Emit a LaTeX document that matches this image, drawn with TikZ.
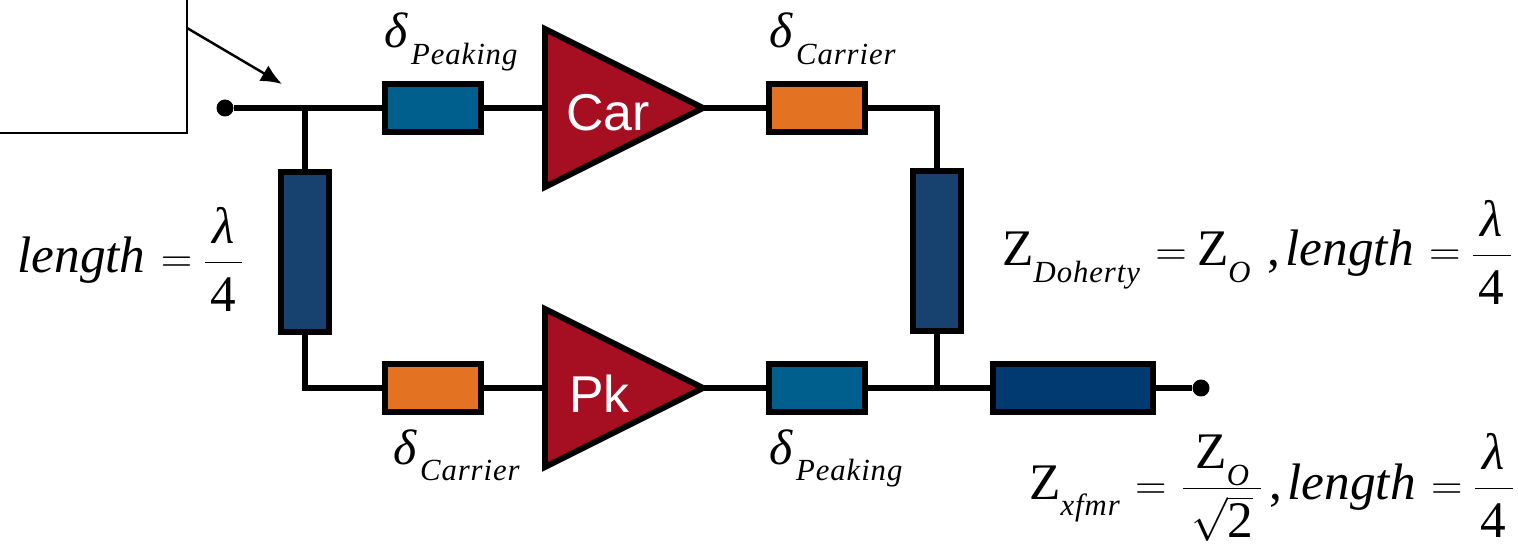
\documentclass[tikz,border=0pt]{standalone}
\usepackage{fontspec}
\usepackage{xcolor}
\setmainfont{Liberation Serif}
\newfontfamily\ampfont{Liberation Sans}
\usetikzlibrary{arrows.meta,positioning,shapes.geometric}
\definecolor{ampred}{HTML}{A50F21}
\definecolor{phblue}{HTML}{005F8C}
\definecolor{phorange}{HTML}{E37222}
\definecolor{stubblue}{HTML}{17426F}
\definecolor{xfmrblue}{HTML}{003A70}
\newcommand{\subfont}{\fontsize{17.5}{18}\selectfont\itshape\addfontfeature{LetterSpace=3}}
\newcommand{\sublabel}[2]{\textit{#1}\hspace{0.06em}\raisebox{-0.34em}{\subfont #2}}
\newcommand{\subdrop}[1]{\raisebox{-0.32em}{\subfont #1}}
\newcommand{\eqsign}{\hspace{0.3em}$=$\hspace{0.2em}}
\newcommand{\tallfrac}[3]{\ensuremath{\displaystyle\frac{\mbox{\hspace{#3}\rule[-0.2em]{0pt}{0pt}#1\hspace{#3}}}{\mbox{\rule{0pt}{0.92em}#2}}}}
\newcommand{\lamfrac}{\tallfrac{\itshape λ}{4}{0.15em}}
\begin{document}
\begin{tikzpicture}[
    x=0.02cm, y=-0.02cm,
    wire/.style={line width=2.9pt, draw=black},
    phbox/.style={draw=black, line width=3.4pt, minimum width=1.92cm, minimum height=0.96cm, outer sep=0pt, inner sep=0pt},
    stubbox/.style={draw=black, line width=3.4pt, fill=stubblue, minimum width=0.96cm, minimum height=3.2cm, outer sep=0pt, inner sep=0pt},
    ampbox/.style={draw=black, line width=3.4pt, fill=ampred, isosceles triangle, isosceles triangle stretches, minimum width=3.16cm, minimum height=3.16cm, inner sep=0pt, outer sep=0pt, anchor=lower side, text=white, font=\ampfont\fontsize{29.5}{30}\selectfont},
    dot/.style={circle, fill=black, minimum size=0.34cm, inner sep=0pt},
    eqn/.style={anchor=base west, inner sep=0pt, font=\fontsize{28.3}{30}\selectfont},
    mainqn/.style={eqn, font=\fontsize{29.2}{30}\selectfont},
    arrow/.style={-{Latex[length=0.42cm,width=0.36cm]}, line width=1.4pt, draw=black},
    callout/.style={line width=1.2pt, draw=black}
  ]
    \useasboundingbox (0,0) rectangle (1518,547);
    \coordinate (calltop) at (187,0);
    \coordinate (callcorner) at (187,133);
    \coordinate (callleft) at (0,133);
    \coordinate (callstart) at (187,28);
    \coordinate (callend) at (282,84);
    \node[dot] (in) at (225,108) {};
    \node[dot] (out) at (1201,388) {};
    \coordinate (tleft) at (305,108);
    \coordinate (bleft) at (305,388);
    \coordinate (tright) at (937,108);
    \coordinate (bright) at (937,388);
    \node[phbox, fill=phblue] (phtop) at (433,108) {};
    \node[phbox, fill=phorange] (cartop) at (817,108) {};
    \node[phbox, fill=phorange] (phbot) at (433,388) {};
    \node[phbox, fill=phblue] (carbot) at (817,388) {};
    \node[stubbox] (stubleft) at (305,252) {};
    \node[stubbox] (stubright) at (937,251) {};
    \node[phbox, fill=xfmrblue, minimum width=3.2cm] (xfmr) at (1073,388) {};
    \node[ampbox] (car) at (545,108) {\raisebox{-13pt}[0pt][0pt]{Car}\kern3.4pt};
    \node[ampbox] (pk) at (545,388) {\raisebox{-14pt}[0pt][0pt]{Pk}\kern11pt};
    \draw[wire] (in) -- (tleft) -- (phtop);
    \draw[wire] (phtop) -- (car.lower side);
    \draw[wire] (car.apex) -- (cartop);
    \draw[wire] (cartop) -- (tright) -- (stubright);
    \draw[wire] (tleft) -- (stubleft);
    \draw[wire] (stubleft) -- (bleft) -- (phbot);
    \draw[wire] (phbot) -- (pk.lower side);
    \draw[wire] (pk.apex) -- (carbot);
    \draw[wire] (carbot) -- (xfmr);
    \draw[wire] (stubright) -- (bright);
    \draw[wire] (xfmr) -- (out);
    \draw[callout] (calltop) -- (callcorner) -- (callleft);
    \draw[arrow] (callstart) -- (callend);
    \node[eqn] (dpktop) at (384,48) {\sublabel{δ}{Peaking}};
    \node[eqn] (dcartop) at (769,48) {\sublabel{δ}{Carrier}};
    \node[eqn] (dcarbot) at (393,464) {\sublabel{δ}{Carrier}};
    \node[eqn] (dpkbot) at (769,464) {\sublabel{δ}{Peaking}};
    \node[mainqn] (lenleft) at (17,273) {\textit{length}\eqsign\lamfrac};
    \node[mainqn] (zdoh) at (1002,266) {Z\subdrop{Doherty}\eqsign Z\subdrop{O}\hspace{0.33em},\hspace{0.1em}\textit{length}\eqsign\lamfrac};
    \node[mainqn] (zxf) at (1029,499) {Z\subdrop{xfmr}\eqsign\hspace{0.08em}\tallfrac{Z\subdrop{O}}{$\sqrt{\mbox{2}}$}{0.24em}\hspace{0.12em},\hspace{0.1em}\textit{length}\eqsign\lamfrac};
\end{tikzpicture}
\end{document}
